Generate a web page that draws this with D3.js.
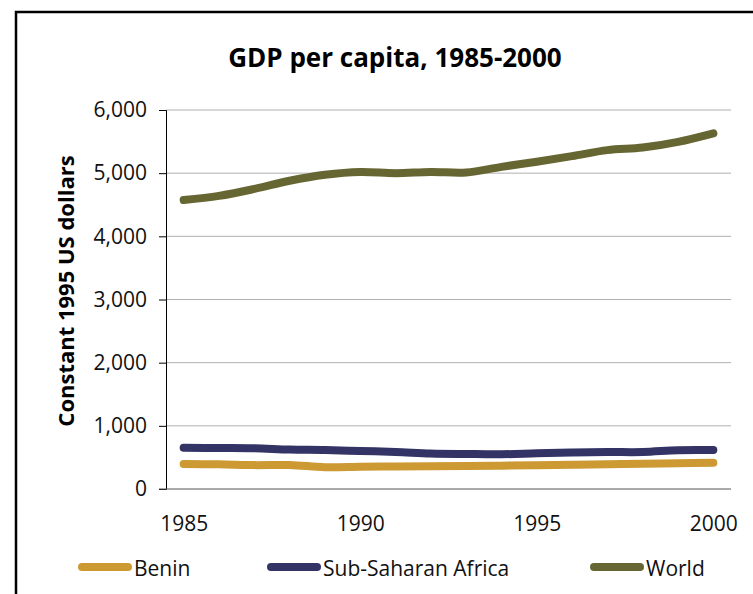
<!DOCTYPE html>
<html>
<head>
<meta charset="utf-8">
<script src="https://cdn.jsdelivr.net/npm/d3@7"></script>
<style>
  body { margin: 0; background: #fff; }
  text { font-family: "Open Sans", "Noto Sans", sans-serif; }
</style>
</head>
<body>
<script>
const svgWidth = 753
const svgHeight = 594

const years = [1985, 1986, 1987, 1988, 1989, 1990, 1991, 1992, 1993, 1994, 1995, 1996, 1997, 1998, 1999, 2000]
const yearLabels = [1985, 1990, 1995, 2000]
const benin = [395, 390, 378, 380, 345, 352, 358, 362, 364, 369, 375, 385, 392, 400, 406, 416]
const subSaharan = [652, 648, 644, 624, 617, 602, 587, 562, 554, 550, 565, 578, 585, 585, 615, 617]
const world = [4575, 4640, 4750, 4880, 4975, 5020, 5000, 5020, 5010, 5100, 5180, 5270, 5365, 5405, 5495, 5630]
const yTicks = [0, 1000, 2000, 3000, 4000, 5000, 6000]

const colorBenin = "#cc9933"
const colorSSA = "#333366"
const colorWorld = "#666633"

const plot = { left: 166, right: 731, top: 110, bottom: 489 }

const svg = d3.select("body").append("svg")
    .attr("width", svgWidth)
    .attr("height", svgHeight)

// outer frame (runs off the right and bottom edges)
svg.append("rect")
    .attr("x", 16)
    .attr("y", 12)
    .attr("width", 800)
    .attr("height", 700)
    .attr("fill", "none")
    .attr("stroke", "#000")
    .attr("stroke-width", 2.5)

const x = d3.scalePoint()
    .domain(years)
    .range([plot.left, plot.right])
    .padding(0.5)

const y = d3.scaleLinear()
    .domain([0, 6000])
    .range([plot.bottom, plot.top])

// gridlines
svg.append("g")
    .selectAll("line")
    .data(yTicks.filter(d => d > 0))
    .join("line")
    .attr("x1", plot.left)
    .attr("x2", plot.right)
    .attr("y1", d => y(d))
    .attr("y2", d => y(d))
    .attr("stroke", "#b0b0b0")
    .attr("stroke-width", 1)

// y axis
const yAxis = d3.axisLeft(y)
    .tickValues(yTicks)
    .tickSize(7)
    .tickPadding(12)
    .tickFormat(d3.format(","))

const yG = svg.append("g")
    .attr("transform", `translate(${plot.left}, 0)`)
    .call(yAxis)
yG.select(".domain").attr("stroke", "#000")
yG.selectAll(".tick line").attr("stroke", "#000")
yG.selectAll(".tick text")
    .attr("font-size", 21)
    .attr("fill", "#111")
    .style("font-family", "'Open Sans', sans-serif")

// x axis
const xAxis = d3.axisBottom(x)
    .tickValues(yearLabels)
    .tickSize(0)
    .tickPadding(27)

const xG = svg.append("g")
    .attr("transform", `translate(0, ${plot.bottom})`)
    .call(xAxis)
xG.select(".domain")
    .attr("stroke", "#555")
    .attr("d", `M${plot.left - 7},0H${plot.right}`)
xG.selectAll(".tick text")
    .attr("font-size", 21)
    .attr("fill", "#111")
    .style("font-family", "'Open Sans', sans-serif")

const line = d3.line()
    .x((d, i) => x(years[i]))
    .y(d => y(d))
    .curve(d3.curveCatmullRom.alpha(0.5))

const series = [
    { name: "Benin", values: benin, color: colorBenin },
    { name: "Sub-Saharan Africa", values: subSaharan, color: colorSSA },
    { name: "World", values: world, color: colorWorld }
]

svg.append("g")
    .selectAll("path")
    .data(series)
    .join("path")
    .attr("d", d => line(d.values))
    .attr("fill", "none")
    .attr("stroke", d => d.color)
    .attr("stroke-width", 8)
    .attr("stroke-linecap", "round")
    .attr("stroke-linejoin", "round")

// title
svg.append("text")
    .attr("x", 395)
    .attr("y", 67)
    .attr("text-anchor", "middle")
    .attr("font-size", 26)
    .attr("font-weight", "bold")
    .text("GDP per capita, 1985-2000")

// y axis title
svg.append("text")
    .attr("transform", `translate(74, 291) rotate(-90)`)
    .attr("text-anchor", "middle")
    .attr("font-size", 22)
    .attr("font-weight", "bold")
    .text("Constant 1995 US dollars")

// legend
const legendX = [78, 267, 590]
const legend = svg.append("g")
    .selectAll("g")
    .data(series)
    .join("g")
    .attr("transform", (d, i) => `translate(${legendX[i]}, 567)`)

legend.append("line")
    .attr("x1", 4)
    .attr("x2", 50)
    .attr("stroke", d => d.color)
    .attr("stroke-width", 8)
    .attr("stroke-linecap", "round")

legend.append("text")
    .attr("x", 56)
    .attr("y", 9)
    .attr("font-size", 21)
    .attr("fill", "#111")
    .text(d => d.name)
</script>
</body>
</html>
